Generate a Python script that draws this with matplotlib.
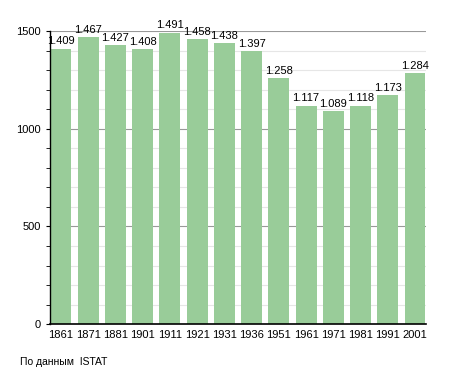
import matplotlib
matplotlib.use("Agg")
import matplotlib.pyplot as plt
from matplotlib.ticker import MultipleLocator

years = ["1861", "1871", "1881", "1901", "1911", "1921", "1931", "1936",
         "1951", "1961", "1971", "1981", "1991", "2001"]
pop = [1409, 1467, 1427, 1408, 1491, 1458, 1438, 1397,
       1258, 1117, 1089, 1118, 1173, 1284]

plt.rcParams["font.family"] = ["Liberation Sans", "DejaVu Sans"]

fig = plt.figure(figsize=(4.55, 3.73), dpi=100)
ax = fig.add_axes([0.11, 0.131, 0.826, 0.786])

x = range(len(years))
ax.bar(x, pop, width=0.77, color="#99cc99", zorder=2)
for i, v in enumerate(pop):
    ax.text(i, v + 12, f"{v/1000:.3f}", ha="center", va="bottom", fontsize=8, zorder=3)

ax.set_xlim(-0.4, len(years) - 0.6)
ax.set_ylim(0, 1500)
ax.set_xticks(list(x))
ax.set_xticklabels(years, fontsize=8)
ax.yaxis.set_major_locator(MultipleLocator(500))
ax.yaxis.set_minor_locator(MultipleLocator(100))
ax.tick_params(axis="y", labelsize=8, length=3, which="both", direction="out")
ax.tick_params(axis="x", length=0, pad=4)
ax.grid(axis="y", which="major", color="#999999", lw=0.8, zorder=1)
ax.grid(axis="y", which="minor", color="#e6e6e6", lw=0.8, zorder=1)
for s in ("top", "right"):
    ax.spines[s].set_visible(False)
ax.spines["left"].set_linewidth(1.0)
ax.spines["bottom"].set_linewidth(1.2)

fig.text(20 / 455, 1 - 362 / 373, "По данным  ISTAT", fontsize=7.5, va="center")

fig.savefig("out.png", dpi=100)
